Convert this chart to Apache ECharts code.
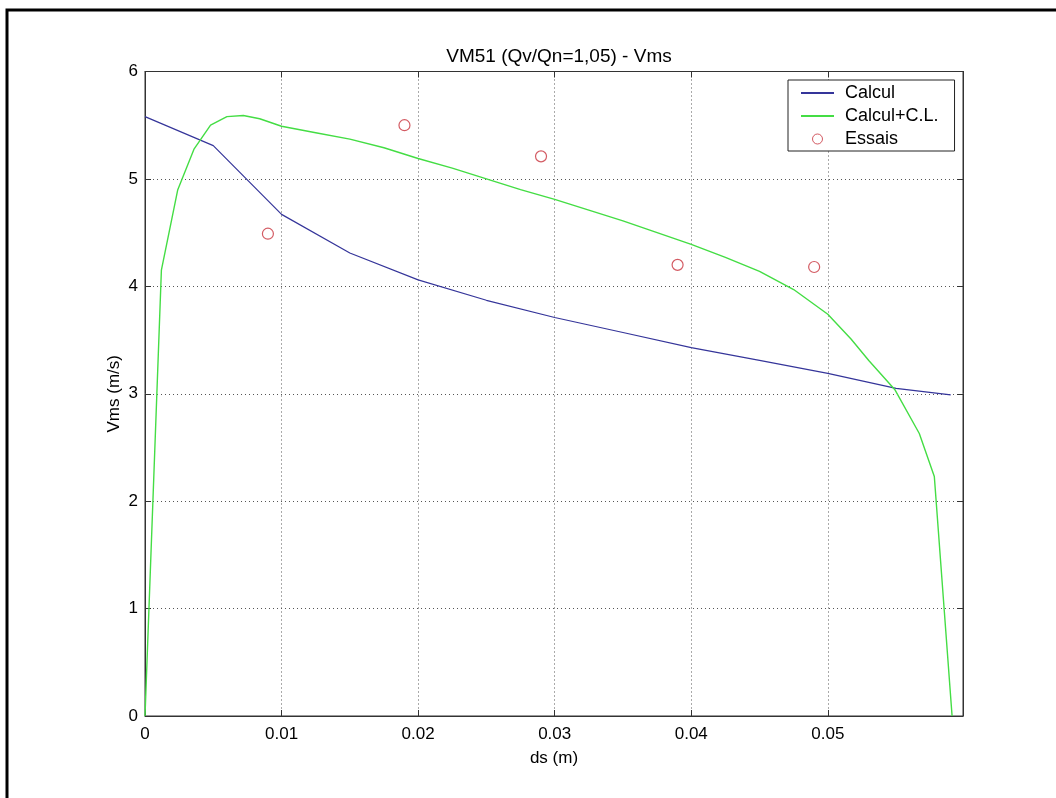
<!DOCTYPE html>
<html>
<head>
<meta charset="utf-8">
<script src="https://cdn.jsdelivr.net/npm/echarts@6/dist/echarts.min.js"></script>
<style>
html,body{margin:0;padding:0;background:#fff;}
#c{width:1056px;height:798px;}
</style>
</head>
<body>
<div id="c"></div>
<script>
// ---- data ----
const titleText = 'VM51 (Qv/Qn=1,05) - Vms';
const xName = 'ds (m)';
const yName = 'Vms (m/s)';
const seriesNames = ['Calcul', 'Calcul+C.L.', 'Essais'];

const calculX = [0, 0.005, 0.01, 0.015, 0.02, 0.025, 0.03, 0.035, 0.04, 0.045, 0.05, 0.055, 0.059];
const calculY = [5.58, 5.31, 4.67, 4.31, 4.06, 3.87, 3.71, 3.57, 3.43, 3.31, 3.19, 3.05, 2.99];

const calculCLX = [0, 0.0012, 0.0024, 0.0036, 0.0048, 0.006, 0.0072, 0.0084, 0.01, 0.0125, 0.015, 0.0175, 0.02, 0.0225, 0.025, 0.0275, 0.03, 0.0325, 0.035, 0.0375, 0.04, 0.0425, 0.045, 0.0475, 0.05, 0.0517, 0.053, 0.0549, 0.0567, 0.0578, 0.0591];
const calculCLY = [0, 4.15, 4.90, 5.28, 5.50, 5.58, 5.59, 5.56, 5.49, 5.43, 5.37, 5.29, 5.19, 5.10, 5.00, 4.90, 4.81, 4.71, 4.61, 4.50, 4.39, 4.27, 4.14, 3.97, 3.74, 3.51, 3.31, 3.04, 2.63, 2.23, 0];

const essaisX = [0.009, 0.019, 0.029, 0.039, 0.049];
const essaisY = [4.49, 5.50, 5.21, 4.20, 4.18];

const xMin = 0, xMax = 0.0599, xInterval = 0.01;
const yMin = 0, yMax = 6, yInterval = 1;

// ---- chart ----
const zip = (a, b) => a.map((v, i) => [v, b[i]]);
const FONT = 'Liberation Sans, Arial, sans-serif';
const chart = echarts.init(document.getElementById('c'), null, {renderer: 'canvas'});

const xLabelFmt = v => {
  const k = Math.round(v / xInterval);
  if (Math.abs(v - k * xInterval) > 1e-9) return '';
  return k === 0 ? '0' : (k * xInterval).toFixed(2);
};

const gridLine = {show: true, lineStyle: {color: '#555', width: 1, type: [1, 3]}};
const hiddenSymbol = {opacity: 0};

chart.setOption({
  backgroundColor: '#ffffff',
  animation: false,
  title: {
    text: titleText,
    left: 554, top: 42, textAlign: 'center',
    textStyle: {fontFamily: FONT, fontSize: 19, fontWeight: 'normal', color: '#000'}
  },
  grid: {left: 145, top: 71.5, right: 93, bottom: 82, show: true, borderColor: '#333', borderWidth: 1, backgroundColor: '#fff'},
  legend: {
    orient: 'vertical',
    left: 788, top: 80,
    backgroundColor: '#fff',
    borderColor: '#222', borderWidth: 1,
    padding: [3, 16, 2, 12],
    itemWidth: 33, itemHeight: 10, itemGap: 3,
    textStyle: {fontFamily: FONT, fontSize: 18, color: '#000', lineHeight: 20, padding: [0, 0, 0, 6]},
    data: [
      {name: seriesNames[0], itemStyle: hiddenSymbol},
      {name: seriesNames[1], itemStyle: hiddenSymbol},
      {name: seriesNames[2], itemStyle: {borderWidth: 1}}
    ]
  },
  xAxis: [{
    type: 'value', min: xMin, max: xMax, interval: xInterval,
    name: xName, nameLocation: 'middle', nameGap: 34, nameMoveOverlap: false,
    nameTextStyle: {fontFamily: FONT, fontSize: 17, color: '#000'},
    axisLine: {show: true, onZero: false, lineStyle: {color: '#333'}},
    axisTick: {show: true, inside: true, length: 6, lineStyle: {color: '#333'}},
    axisLabel: {fontFamily: FONT, fontSize: 17, color: '#000', margin: 10, formatter: xLabelFmt, showMaxLabel: false},
    splitLine: gridLine
  }, {
    type: 'value', position: 'top', min: xMin, max: xMax, interval: xInterval,
    axisLine: {show: true, onZero: false, lineStyle: {color: '#333'}},
    axisTick: {show: true, inside: true, length: 6, lineStyle: {color: '#333'}},
    axisLabel: {show: false}, splitLine: {show: false}
  }],
  yAxis: [{
    type: 'value', min: yMin, max: yMax, interval: yInterval,
    name: yName, nameLocation: 'middle', nameGap: 22, nameRotate: 90, nameMoveOverlap: false,
    nameTextStyle: {fontFamily: FONT, fontSize: 17, color: '#000'},
    axisLine: {show: true, onZero: false, lineStyle: {color: '#333'}},
    axisTick: {show: true, inside: true, length: 6, lineStyle: {color: '#333'}},
    axisLabel: {fontFamily: FONT, fontSize: 17, color: '#000', margin: 7},
    splitLine: gridLine
  }, {
    type: 'value', position: 'right', min: yMin, max: yMax, interval: yInterval,
    axisLine: {show: true, onZero: false, lineStyle: {color: '#333'}},
    axisTick: {show: true, inside: true, length: 6, lineStyle: {color: '#333'}},
    axisLabel: {show: false}, splitLine: {show: false}
  }],
  series: [{
    name: seriesNames[0], type: 'line', symbol: 'none',
    data: zip(calculX, calculY),
    lineStyle: {color: '#35359a', width: 1.2},
    itemStyle: {color: '#35359a'}
  }, {
    name: seriesNames[1], type: 'line', symbol: 'none',
    data: zip(calculCLX, calculCLY),
    lineStyle: {color: '#44dd44', width: 1.4},
    itemStyle: {color: '#44dd44'}
  }, {
    name: seriesNames[2], type: 'scatter', symbol: 'circle', symbolSize: 11,
    data: zip(essaisX, essaisY),
    itemStyle: {color: 'rgba(255,255,255,0)', borderColor: '#c8323c', borderWidth: 1.2}
  }],
  graphic: [{
    type: 'rect', silent: true, z: 100,
    shape: {x: 7, y: 10, width: 1200, height: 1000},
    style: {fill: 'none', stroke: '#000', lineWidth: 3}
  }]
});
</script>
</body>
</html>
